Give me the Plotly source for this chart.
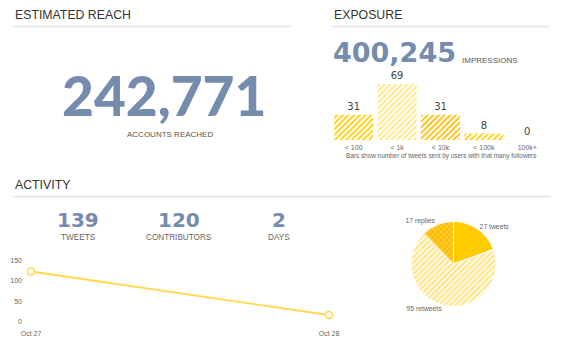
import plotly.graph_objects as go

W, H = 567, 359

# ---- data ----
reach_value = 242771
reach_label = "ACCOUNTS REACHED"
impressions_value = 400245
impressions_label = "IMPRESSIONS"

follower_bins = ["< 100", "< 1k", "< 10k", "< 100k", "100k+"]
tweets_per_bin = [31, 69, 31, 8, 0]
bars_caption = "Bars show number of tweets sent by users with that many followers"

stat_values = [139, 120, 2]
stat_labels = ["TWEETS", "CONTRIBUTORS", "DAYS"]

days = ["Oct 27", "Oct 28"]
tweets_per_day = [123, 16]
y_ticks = [0, 50, 100, 150]

tweet_types = ["tweets", "retweets", "replies"]
tweet_type_counts = [27, 95, 17]

section_titles = ["ESTIMATED REACH", "EXPOSURE", "ACTIVITY"]

# ---- helpers ----
def px(x):
    return x / W

def py(y):
    return 1 - y / H

NUM = "#768caf"
HEAD = "#333333"
SUB = "#555555"
SANS = "Liberation Sans, Arial, sans-serif"

fig = go.Figure()

# Exposure bars
bar_bg = ["#ffcc00", "#ffe680", "#ffbb00", "#ffcc00", "#ffcc00"]
bar_fg = ["#ffe066", "#ffffff", "#ffd24d", "#ffe066", "#ffe066"]
fig.add_trace(go.Bar(
    x=follower_bins, y=tweets_per_bin, xaxis="x", yaxis="y",
    marker=dict(color=bar_bg, line=dict(width=0),
                pattern=dict(shape="/", fgcolor=bar_fg, bgcolor=bar_bg, size=4, solidity=0.45)),
    text=tweets_per_bin, textposition="outside", cliponaxis=False,
    textfont=dict(family="DejaVu Sans, sans-serif", size=10, color="#444444"),
    showlegend=False, hoverinfo="skip",
))

# Activity line
fig.add_trace(go.Scatter(
    x=days, y=tweets_per_day, xaxis="x2", yaxis="y2", mode="lines+markers",
    line=dict(color="#ffd94a", width=1.8),
    marker=dict(symbol="circle", size=7, color="#ffffff", line=dict(color="#ffd94a", width=1.5)),
    cliponaxis=False, showlegend=False, hoverinfo="skip",
))

# Pie
fig.add_trace(go.Pie(
    labels=tweet_types, values=tweet_type_counts, sort=False, direction="clockwise", rotation=0,
    domain=dict(x=[px(411), px(496)], y=[py(306.5), py(221.5)]),
    marker=dict(colors=["#ffcc00", "#ffe68a", "#ffbb00"], line=dict(color="#ffffff", width=1),
                pattern=dict(shape=["", "/", "x"], fgcolor=["#ffcc00", "#ffffff", "#ffd24d"],
                             bgcolor=["#ffcc00", "#ffe68a", "#ffbb00"], size=4, solidity=0.4)),
    texttemplate="%{value} %{label}", textposition="outside",
    textfont=dict(family=SANS, size=6.8, color="#666666"),
    showlegend=False, hoverinfo="skip", automargin=False,
))

layout = dict(
    template="none",
    width=W, height=H, margin=dict(l=0, r=0, t=0, b=0, pad=0), autosize=False,
    paper_bgcolor="#ffffff", plot_bgcolor="rgba(0,0,0,0)",
    font=dict(family=SANS, color=SUB),
    bargap=0.1,
    xaxis=dict(domain=[px(332), px(549)], anchor="y", showgrid=False, zeroline=False,
               showline=False, ticks="", tickfont=dict(size=7, color="#666666"),
               ticklabelstandoff=2, automargin=False, fixedrange=True),
    yaxis=dict(domain=[py(140), py(75)], anchor="x", range=[0, 80], visible=False, automargin=False),
    xaxis2=dict(domain=[px(31), px(329)], anchor="y2", range=[0, 1], showgrid=False,
                zeroline=False, showline=False, ticks="", tickfont=dict(size=7, color="#666666"),
                ticklabelstandoff=6, automargin=False),
    yaxis2=dict(domain=[py(321.5), py(260.5)], anchor="x2", range=[0, 150], tickvals=y_ticks,
                showgrid=False, zeroline=False, showline=False, ticks="",
                tickfont=dict(size=7, color="#666666"), ticklabelstandoff=8, automargin=False),
)
fig.update_layout(**layout)

ann = []
shapes = []
# Section headers
head_pos = [(13, 15, 13, 290), (332, 15, 332, 549), (13, 185, 13, 551)]
for t, (x, y, x0, x1) in zip(section_titles, head_pos):
    ann.append(dict(text=t, x=px(x), y=py(y), xanchor="left", yanchor="middle",
                    font=dict(size=12.3, color=HEAD, family=SANS)))
    shapes.append(dict(type="line", xref="paper", yref="paper", x0=px(x0), x1=px(x1),
                       y0=py(y + 11.5), y1=py(y + 11.5), line=dict(color="#e3e3e3", width=1.5)))

# Reach
ann.append(dict(text=f"{reach_value:,}", x=px(164), y=py(95), xanchor="center", yanchor="middle",
                font=dict(size=55, color=NUM, family="Lato", weight=900)))
ann.append(dict(text=reach_label, x=px(170), y=py(134), xanchor="center", yanchor="middle",
                font=dict(size=8, color=SUB)))
# Impressions
ann.append(dict(text=f"{impressions_value:,}", x=px(331), y=py(52), xanchor="left", yanchor="middle",
                font=dict(size=27, color=NUM, family="DejaVu Sans", weight="bold")))
ann.append(dict(text=impressions_label, x=px(460), y=py(61), xanchor="left", yanchor="middle",
                font=dict(size=8, color=SUB)))
ann.append(dict(text=bars_caption, x=px(441), y=py(156), xanchor="center", yanchor="middle",
                font=dict(size=6.4, color="#666666")))
# Activity stats
for v, l, cx in zip(stat_values, stat_labels, [78, 179, 279]):
    ann.append(dict(text=str(v), x=px(cx), y=py(220), xanchor="center", yanchor="middle",
                    font=dict(size=20, color=NUM, family="DejaVu Sans", weight="bold")))
    ann.append(dict(text=l, x=px(cx), y=py(237), xanchor="center", yanchor="middle",
                    font=dict(size=8.2, color="#666666")))

for a in ann:
    a.update(xref="paper", yref="paper", showarrow=False)
fig.update_layout(annotations=ann, shapes=shapes)

fig.write_html("out.html", config={"displayModeBar": False, "staticPlot": True},
               post_script="document.body.style.margin='0';document.body.style.overflow='hidden';")
